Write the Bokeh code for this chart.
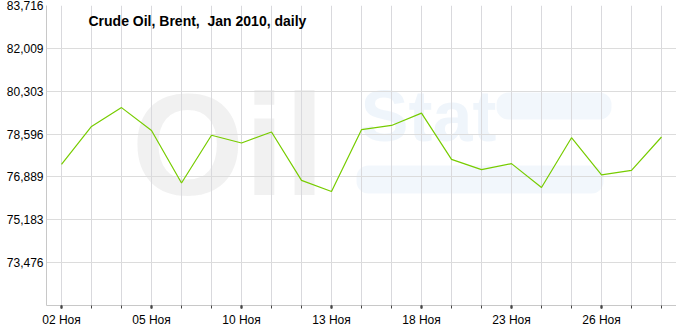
from bokeh.plotting import figure
from bokeh.models import FixedTicker, Label, Range1d, ColumnDataSource, BoxAnnotation
from bokeh.embed import file_html
from bokeh.resources import INLINE

dates = ["02 Ноя", "03 Ноя", "04 Ноя", "05 Ноя", "06 Ноя", "09 Ноя", "10 Ноя",
         "11 Ноя", "12 Ноя", "13 Ноя", "16 Ноя", "17 Ноя", "18 Ноя", "19 Ноя",
         "20 Ноя", "23 Ноя", "24 Ноя", "25 Ноя", "26 Ноя", "27 Ноя", "30 Ноя"]
prices = [77.39, 78.90, 79.65, 78.74, 76.65, 78.55, 78.24, 78.68, 76.75, 76.31,
          78.77, 78.94, 79.43, 77.59, 77.18, 77.42, 76.47, 78.45, 76.97, 77.15, 78.48]
labeled_idx = [0, 3, 6, 9, 12, 15, 18]
y_ticks = [73.476, 75.183, 76.889, 78.596, 80.303, 82.009, 83.716]
y_tick_labels = ["73,476", "75,183", "76,889", "78,596", "80,303", "82,009", "83,716"]
y_min = 71.770
title_text = "Crude Oil, Brent,\u00a0 Jan 2010, daily"

idx = list(range(len(dates)))
src = ColumnDataSource(data=dict(x=idx, y=prices))

p = figure(width=676, height=329, output_backend="svg", toolbar_location=None,
           x_range=Range1d(-0.5, len(dates) - 0.5), y_range=Range1d(y_min, y_ticks[-1]),
           min_border_left=46, min_border_right=0, min_border_top=5, min_border_bottom=24,
           background_fill_color="white", border_fill_color="white")
p.outline_line_color = None

# watermark (decorative)
p.add_layout(Label(x=85, y=80, x_units="screen", y_units="screen", text="Oil",
                   text_font="Liberation Sans", text_font_size="145px", text_font_style="bold",
                   text_color="#7a7a7a", text_alpha=0.10, level="image"))
p.add_layout(Label(x=314, y=150, x_units="screen", y_units="screen", text="Stat",
                   text_font="Liberation Sans", text_font_size="72px", text_font_style="bold",
                   text_color="#9cc3e6", text_alpha=0.16, level="image"))
p.add_layout(BoxAnnotation(left=450, right=565, top=213, bottom=186,
                           left_units="screen", right_units="screen",
                           top_units="screen", bottom_units="screen",
                           fill_color="#dbe9f7", fill_alpha=0.35, line_color=None,
                           border_radius=12, level="image"))
p.add_layout(BoxAnnotation(left=310, right=557, top=140, bottom=112,
                           left_units="screen", right_units="screen",
                           top_units="screen", bottom_units="screen",
                           fill_color="#dbe9f7", fill_alpha=0.35, line_color=None,
                           border_radius=12, level="image"))

p.line("x", "y", source=src, line_color="#77cc00", line_width=1.2)

# axes
for ax in (p.xaxis[0], p.yaxis[0]):
    ax.axis_line_color = "#c8c8c8"
    ax.major_label_text_font = "Liberation Sans"
    ax.major_label_text_font_size = "12px"
    ax.major_label_text_color = "black"

p.xaxis.ticker = FixedTicker(ticks=labeled_idx, minor_ticks=idx)
p.xaxis.major_label_overrides = {i: dates[i] for i in labeled_idx}
p.xaxis.major_tick_in = 0
p.xaxis.major_tick_out = 3
p.xaxis.major_tick_line_color = "black"
p.xaxis.major_tick_line_width = 2
p.xaxis.minor_tick_in = 0
p.xaxis.minor_tick_out = 3
p.xaxis.minor_tick_line_color = "#444444"
p.xaxis.major_label_standoff = 4

p.yaxis.ticker = FixedTicker(ticks=y_ticks)
p.yaxis.major_label_overrides = {t: l for t, l in zip(y_ticks, y_tick_labels)}
p.yaxis.major_tick_in = 0
p.yaxis.major_tick_out = 0
p.yaxis.minor_tick_line_color = None
p.yaxis.major_label_standoff = 3

p.xgrid.ticker = FixedTicker(ticks=idx)
p.xgrid.grid_line_color = "#d9d9dd"
p.ygrid.ticker = FixedTicker(ticks=y_ticks)
p.ygrid.grid_line_color = "#dcdcdc"

p.add_layout(Label(x=42, y=277, x_units="screen", y_units="screen", text=title_text,
                   text_font="Liberation Sans", text_font_size="14px", text_font_style="bold",
                   text_color="black"))

open("out.html", "w").write(file_html(p, INLINE))
